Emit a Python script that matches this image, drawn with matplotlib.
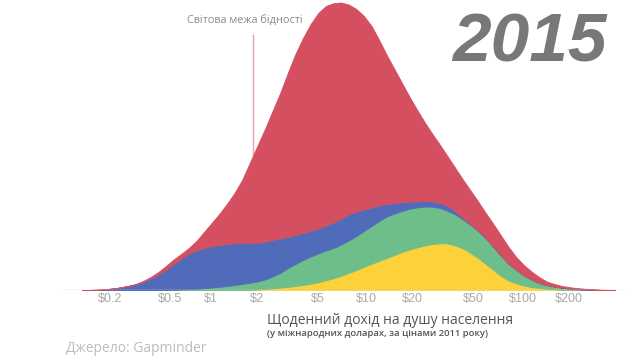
import numpy as np
import matplotlib
matplotlib.use("Agg")
import matplotlib.pyplot as plt

# ---- data ----
# x: log10 of daily income in $, step 0.05 from -0.80 to 2.70
log_income = [round(-0.80 + 0.05 * i, 2) for i in range(71)]

yellow = [0, 0, 0, 0, 0, 0, 0, 0, 0, 0, 0, 0, 0, 0, 0, 0, 0, 0, 0, 0, 0, 0,
          0.2, 0.5, 1, 1.6, 2.3, 3.1, 4, 5, 6.2, 7.7, 9.8, 11.8, 14.2, 17, 20, 23.2,
          26.2, 29.2, 32, 35, 38, 40.5, 42.7, 44.5, 46, 46.8, 46.5, 44.5, 41.5, 37,
          32, 26, 20, 14, 9.5, 6.5, 4.4, 3, 2, 1.2, 0.7, 0.3, 0.1, 0, 0, 0, 0, 0, 0]
green = [0, 0, 0, 0, 0, 0, 0, 0, 0, 0, 0, 0.1, 0.3, 0.5, 0.8, 1.2, 1.8, 2.5, 3.2,
         4, 5, 6, 7.0, 8.0, 9.5, 11.9, 14.7, 18.9, 22, 25, 27.3, 28.8, 29.7, 30.2,
         31.3, 32.5, 34, 35.8, 37.8, 39.8, 41.5, 41.5, 41, 40.8, 39.9, 39, 37.3,
         35.2, 32.5, 31, 29, 28, 27, 25.5, 23, 20, 16.5, 13.5, 10.1, 7.5, 5, 3.8,
         2.8, 2, 1.4, 0.9, 0.5, 0.25, 0.1, 0, 0]
blue = [0, 0.1, 0.3, 0.8, 1.5, 2.5, 4, 5.5, 8, 11.5, 15.5, 19.9, 25.7, 31, 35.7,
        38.3, 40.2, 41.3, 41.8, 42, 41.7, 41, 39.8, 38.7, 37.8, 36.5, 34.5, 31, 29,
        27, 26, 25, 25, 25.5, 26, 26, 24.5, 21.5, 18.5, 15.5, 12.5, 10.5, 8.7, 7,
        6.2, 5.5, 5.2, 5, 5, 3.5, 1.5, 0.8, 0.6, 0.5, 0.5, 0.4, 0.3, 0.2, 0.1, 0.1,
        0.1, 0, 0, 0, 0, 0, 0, 0, 0, 0, 0]
red = [0, 0, 0, 0, 0, 0.1, 0.1, 0.5, 1, 1.5, 2.5, 4, 4.5, 4.5, 5.5, 9.5, 16, 23.2,
       31, 40, 50.3, 63, 80, 96.8, 112.7, 129, 145.5, 164, 181, 195, 206.5, 215.5,
       219.5, 219.3, 216, 210, 202.5, 193.5, 181.5, 165.5, 149, 134, 119.3, 104.7,
       91.2, 78.5, 67.5, 58, 49.5, 43, 38.5, 33.7, 28.9, 25, 22.5, 20.1, 16.7, 12.8,
       10.4, 7.9, 5.9, 3.5, 2.5, 1.7, 1.3, 1.0, 0.8, 0.55, 0.3, 0.15, 0]

tick_values = [0.2, 0.5, 1, 2, 5, 10, 20, 50, 100, 200]
tick_labels = ["$0.2", "$0.5", "$1", "$2", "$5", "$10", "$20", "$50", "$100", "$200"]
poverty_line = 2.1
year = "2015"

colors = ["#FDD13A", "#6DBE8B", "#4F6BBA", "#D44F60"]

# ---- figure ----
fig = plt.figure(figsize=(6.4, 3.6), dpi=100)
ax = fig.add_axes([0, 70 / 360, 1, 290 / 360])
x = 10 ** np.array(log_income)

ax.set_xscale("log")
ax.set_xlim(10 ** (-204 / 152.3), 10 ** ((640 - 204) / 152.3))
ax.set_ylim(0, 290)

# poverty line (behind the mountain)
ax.plot([poverty_line, poverty_line], [0, 255], color="#E9A3AC", lw=1.0, zorder=1)
ax.text(poverty_line * 0.886, 270, "Світова межа бідності",
        family=["Open Sans", "DejaVu Sans"], fontsize=7.8, color="#8A8A8A",
        ha="center", va="center")

polys = ax.stackplot(x, yellow, green, blue, red, colors=colors, zorder=2, lw=0)
for p, c in zip(polys, colors):
    p.set_edgecolor(c)
    p.set_linewidth(0.6)

ax.axhline(0, xmin=63 / 640, xmax=625 / 640, color="#D6D6D6", lw=1.0, zorder=3)

for s in ax.spines.values():
    s.set_visible(False)
ax.set_yticks([])
ax.set_xticks(tick_values)
ax.set_xticklabels(tick_labels)
ax.xaxis.set_minor_locator(matplotlib.ticker.NullLocator())
ax.tick_params(axis="x", length=0, pad=2.5, labelsize=9, labelcolor="#A8A8A8")
for lab in ax.get_xticklabels():
    lab.set_ha("left")
    lab.set_family(["Liberation Sans", "DejaVu Sans"])

fig.text(607 / 640, 1 - 62 / 360, year, family="Liberation Sans", fontsize=50,
         fontweight="bold", fontstyle="italic", color="#787878", ha="right", va="baseline")

fig.text(267 / 640, 1 - 320 / 360, "Щоденний дохід на душу населення",
         family=["Open Sans", "DejaVu Sans"], fontsize=10, color="#555555",
         ha="left", va="center")
fig.text(267 / 640, 1 - 334 / 360, "(у міжнародних доларах, за цінами 2011 року)",
         family=["Open Sans", "DejaVu Sans"], fontsize=6.8, fontweight="semibold",
         color="#555555", ha="left", va="center")
fig.text(66 / 640, 1 - 349 / 360, "Джерело: Gapminder",
         family=["Open Sans", "DejaVu Sans"], fontsize=10, color="#BDBDBD",
         ha="left", va="center")

fig.savefig("out.png", dpi=100)
